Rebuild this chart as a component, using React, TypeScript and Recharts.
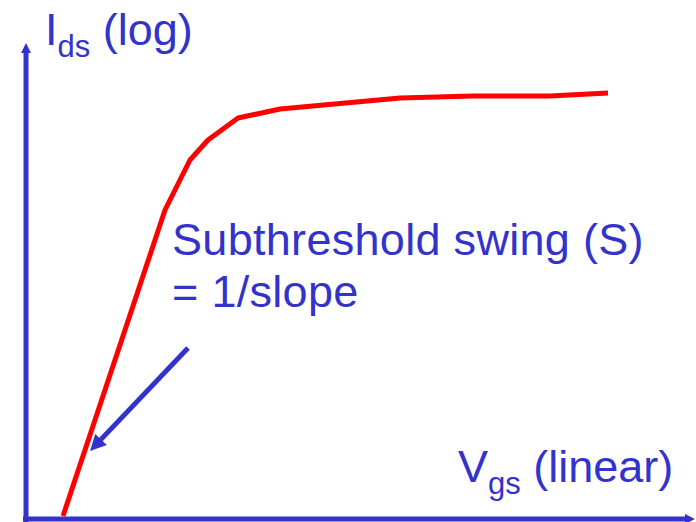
import React from "react";
import { LineChart, Line, XAxis, YAxis, ReferenceLine } from "recharts";

// gate voltage (arbitrary linear units) and log10 of drain current
const vgs = [0.074, 0.278, 0.328, 0.364, 0.424, 0.508, 0.748, 0.894, 1.048, 1.164];
const logIds = [-11.94, -5.82, -4.82, -4.42, -3.98, -3.8, -3.58, -3.54, -3.54, -3.48];

const vgsDomain = [0, 1.34];
const idsDomain = [-12, -2.5];

// axes drawn as arrows, plus the annotation arrow pointing at the slope
const yAxisArrow = [
  { x: 0, y: -12.06 },
  { x: 0, y: -2.48 },
];
const xAxisArrow = [
  { x: -0.006, y: -12 },
  { x: 1.338, y: -12 },
];
const slopeArrow = [
  { x: 0.324, y: -8.58 },
  { x: 0.128, y: -10.64 },
];

const data = vgs.map((v, i) => ({ vgs: v, ids: logIds[i] }));

const BLUE = "#3333cc";
const RED = "#ff0000";
const FONT = '"Liberation Sans", Arial, sans-serif';

const makeArrow = (head: number, half: number, width: number) => (p: any) => {
  const { x1, y1, x2, y2 } = p;
  const len = Math.hypot(x2 - x1, y2 - y1);
  const ux = (x2 - x1) / len;
  const uy = (y2 - y1) / len;
  const bx = x2 - ux * head;
  const by = y2 - uy * head;
  return (
    <g>
      <line x1={x1} y1={y1} x2={bx + ux * 2} y2={by + uy * 2} stroke={BLUE} strokeWidth={width} />
      <polygon
        points={`${x2},${y2} ${bx - uy * half},${by + ux * half} ${bx + uy * half},${by - ux * half}`}
        fill={BLUE}
      />
    </g>
  );
};

const axisShape = makeArrow(10, 5, 5);
const pointerShape = makeArrow(16, 8, 5);

export default function App() {
  return (
    <div style={{ position: "absolute", left: 0, top: 0, background: "#fff" }}>
      <LineChart
        width={696}
        height={522}
        data={data}
        margin={{ top: 44, right: 0, bottom: 3, left: 26 }}
      >
        <XAxis dataKey="vgs" type="number" domain={vgsDomain} hide />
        <YAxis type="number" domain={idsDomain} hide />
        <Line
          dataKey="ids"
          type="linear"
          stroke={RED}
          strokeWidth={5}
          strokeLinejoin="round"
          dot={false}
          isAnimationActive={false}
        />
        <ReferenceLine segment={yAxisArrow} shape={axisShape} ifOverflow="visible" />
        <ReferenceLine segment={xAxisArrow} shape={axisShape} ifOverflow="visible" />
        <ReferenceLine segment={slopeArrow} shape={pointerShape} />

        <text x={45} y={45} fill={BLUE} fontFamily={FONT} fontSize={45} style={{ whiteSpace: "pre" }}>
          I
          <tspan fontSize={31} dy={12}>ds</tspan>
          <tspan dy={-12}>{" (log)"}</tspan>
        </text>
        <text x={458} y={482} fill={BLUE} fontFamily={FONT} fontSize={45} style={{ whiteSpace: "pre" }}>
          V
          <tspan fontSize={31} dy={12}>gs</tspan>
          <tspan dy={-12}>{" (linear)"}</tspan>
        </text>
        <text x={172} y={255} fill={BLUE} fontFamily={FONT} fontSize={45} letterSpacing={0.3}>
          Subthreshold swing (S)
        </text>
        <text x={172} y={307} fill={BLUE} fontFamily={FONT} fontSize={45} letterSpacing={0.3}>
          = 1/slope
        </text>
      </LineChart>
    </div>
  );
}
